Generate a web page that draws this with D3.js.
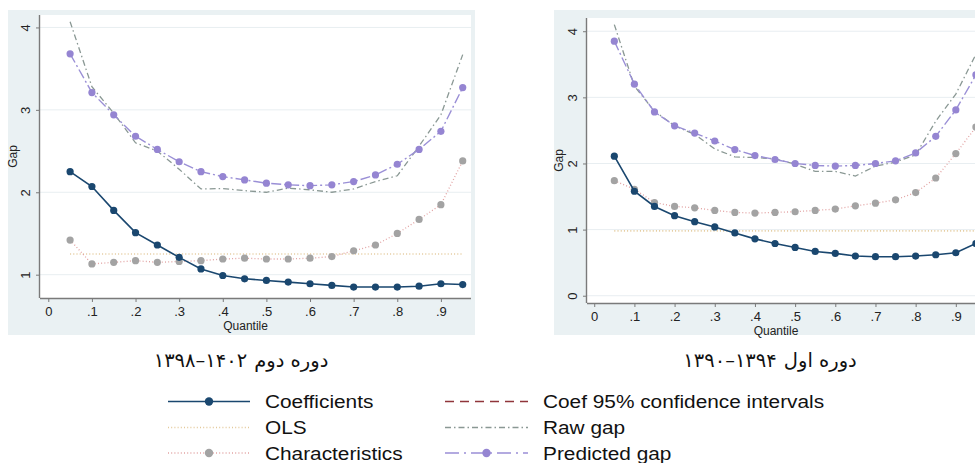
<!DOCTYPE html>
<html>
<head>
<meta charset="utf-8">
<script src="https://cdn.jsdelivr.net/npm/d3@7"></script>
<style>
  body { margin: 0; background: #fff; }
  svg { display: block; }
</style>
</head>
<body>
<div class="chart"></div>
<script>
// quantiles on the x axis
const quantiles = [0.05, 0.1, 0.15, 0.2, 0.25, 0.3, 0.35, 0.4, 0.45, 0.5,
                   0.55, 0.6, 0.65, 0.7, 0.75, 0.8, 0.85, 0.9, 0.95];

// second period 1398-1402 (left panel)
const coefP2  = [2.25, 2.07, 1.78, 1.51, 1.36, 1.21, 1.07, 0.99, 0.95, 0.93,
                 0.91, 0.89, 0.87, 0.85, 0.85, 0.85, 0.86, 0.89, 0.88];
const charsP2 = [1.42, 1.13, 1.15, 1.17, 1.15, 1.16, 1.17, 1.19, 1.20, 1.19,
                 1.19, 1.20, 1.22, 1.29, 1.36, 1.50, 1.67, 1.85, 2.38];
const rawP2   = [4.07, 3.28, 2.96, 2.60, 2.50, 2.28, 2.04, 2.045, 2.02, 2.00,
                 2.05, 2.03, 2.00, 2.04, 2.13, 2.20, 2.56, 2.94, 3.67];
const predP2  = [3.68, 3.21, 2.94, 2.68, 2.52, 2.37, 2.25, 2.19, 2.15, 2.11,
                 2.09, 2.08, 2.09, 2.13, 2.21, 2.34, 2.52, 2.74, 3.27];
const olsP2 = 1.25;

// first period 1390-1394 (right panel)
const coefP1  = [2.11, 1.58, 1.35, 1.21, 1.12, 1.04, 0.95, 0.86, 0.79, 0.73,
                 0.67, 0.64, 0.60, 0.59, 0.59, 0.60, 0.62, 0.65, 0.79];
const charsP1 = [1.74, 1.61, 1.41, 1.35, 1.33, 1.29, 1.26, 1.25, 1.26, 1.27,
                 1.29, 1.31, 1.36, 1.40, 1.45, 1.56, 1.78, 2.15, 2.55];
const rawP1   = [4.10, 3.17, 2.79, 2.57, 2.44, 2.22, 2.10, 2.09, 2.07, 1.99,
                 1.88, 1.88, 1.81, 1.96, 2.02, 2.13, 2.64, 3.05, 3.65];
const predP1  = [3.85, 3.20, 2.78, 2.57, 2.46, 2.34, 2.21, 2.12, 2.06, 2.00,
                 1.97, 1.96, 1.97, 2.00, 2.04, 2.16, 2.41, 2.81, 3.34];
const olsP1 = 0.98;

// axes
const xTicks = [0, 0.1, 0.2, 0.3, 0.4, 0.5, 0.6, 0.7, 0.8, 0.9];
const xTickLabels = ["0", ".1", ".2", ".3", ".4", ".5", ".6", ".7", ".8", ".9"];
const yTicksP2 = [1, 2, 3, 4];
const yTicksP1 = [0, 1, 2, 3, 4];

// panel captions (words + year range kept apart so the digits read left to right)
const captionWords = ["دوره دوم", "دوره اول"];
const captionYears = ["۱۳۹۸–۱۴۰۲", "۱۳۹۰–۱۳۹۴"];

const legendNames = ["Coefficients", "OLS", "Characteristics",
                     "Coef 95% confidence intervals", "Raw gap", "Predicted gap"];

const width = 975;
const height = 463;

const colors = {
  coef: "#1a476f",
  ols: "#e3c99a",
  charsLine: "#e2a3a3",
  charsDot: "#a3a3a3",
  ci: "#90353b",
  raw: "#8a9894",
  predLine: "#9a8fd6",
  predDot: "#9585d2",
  bg: "#eaf1f3",
  grid: "#e8eef1",
  axis: "#7a7a7a"
};

const svg = d3.select(".chart")
  .append("svg")
  .attr("width", width)
  .attr("height", height)
  .style("font-family", "'Liberation Sans', Arial, sans-serif");

const panels = [
  { bg: [8, 10, 467, 325], plot: [40, 15, 471, 298],
    xDomain: [-0.019, 0.969], yDomain: [0.717, 4.151], yTicks: yTicksP2,
    coef: coefP2, chars: charsP2, raw: rawP2, pred: predP2, ols: olsP2,
    words: captionWords[0], years: captionYears[0], captionX: 241, gapX: 17 },
  { bg: [554, 10, 440, 325], plot: [587, 18, 996, 303],
    xDomain: [-0.018, 1.0], yDomain: [-0.11, 4.2], yTicks: yTicksP1,
    coef: coefP1, chars: charsP1, raw: rawP1, pred: predP1, ols: olsP1,
    words: captionWords[1], years: captionYears[1], captionX: 770, gapX: 563 }
];

panels.forEach((p, i) => {
  const [px0, py0, px1, py1] = p.plot;
  const x = d3.scaleLinear().domain(p.xDomain).range([px0, px1]);
  const y = d3.scaleLinear().domain(p.yDomain).range([py1, py0]);

  const g = svg.append("g");

  g.append("rect")
    .attr("x", p.bg[0]).attr("y", p.bg[1])
    .attr("width", p.bg[2]).attr("height", p.bg[3])
    .attr("fill", colors.bg);

  g.append("rect")
    .attr("x", px0).attr("y", py0)
    .attr("width", px1 - px0).attr("height", py1 - py0)
    .attr("fill", "#fff");

  // grid
  g.append("g")
    .selectAll("line")
    .data(p.yTicks)
    .join("line")
      .attr("x1", px0).attr("x2", px1)
      .attr("y1", d => y(d)).attr("y2", d => y(d))
      .attr("stroke", colors.grid)
      .attr("stroke-width", 1);

  const clipId = "clip" + i;
  g.append("clipPath").attr("id", clipId)
    .append("rect")
    .attr("x", px0).attr("y", py0)
    .attr("width", px1 - px0).attr("height", py1 - py0);

  const plot = g.append("g").attr("clip-path", `url(#${clipId})`);

  const line = d3.line()
    .x((d, k) => x(quantiles[k]))
    .y(d => y(d));

  // OLS
  plot.append("line")
    .attr("x1", x(quantiles[0])).attr("x2", x(quantiles[quantiles.length - 1]))
    .attr("y1", y(p.ols)).attr("y2", y(p.ols))
    .attr("stroke", colors.ols)
    .attr("stroke-width", 1.6)
    .attr("stroke-dasharray", "1,2.2");

  // raw gap
  plot.append("path")
    .attr("d", line(p.raw))
    .attr("fill", "none")
    .attr("stroke", colors.raw)
    .attr("stroke-width", 1.3)
    .attr("stroke-dasharray", "6,3,1.5,3");

  // characteristics
  plot.append("path")
    .attr("d", line(p.chars))
    .attr("fill", "none")
    .attr("stroke", colors.charsLine)
    .attr("stroke-width", 1.3)
    .attr("stroke-dasharray", "1,2.2");
  plot.append("g")
    .selectAll("circle")
    .data(p.chars)
    .join("circle")
      .attr("cx", (d, k) => x(quantiles[k]))
      .attr("cy", d => y(d))
      .attr("r", 3.6)
      .attr("fill", colors.charsDot);

  // predicted gap
  plot.append("path")
    .attr("d", line(p.pred))
    .attr("fill", "none")
    .attr("stroke", colors.predLine)
    .attr("stroke-width", 1.4)
    .attr("stroke-dasharray", "10,3,2,3");
  plot.append("g")
    .selectAll("circle")
    .data(p.pred)
    .join("circle")
      .attr("cx", (d, k) => x(quantiles[k]))
      .attr("cy", d => y(d))
      .attr("r", 3.6)
      .attr("fill", colors.predDot);

  // coefficients
  plot.append("path")
    .attr("d", line(p.coef))
    .attr("fill", "none")
    .attr("stroke", colors.coef)
    .attr("stroke-width", 1.6);
  plot.append("g")
    .selectAll("circle")
    .data(p.coef)
    .join("circle")
      .attr("cx", (d, k) => x(quantiles[k]))
      .attr("cy", d => y(d))
      .attr("r", 3.6)
      .attr("fill", colors.coef);

  // axes
  const xAxis = g.append("g")
    .attr("transform", `translate(0,${py1})`)
    .call(d3.axisBottom(x)
      .tickValues(xTicks)
      .tickFormat((d, k) => xTickLabels[k])
      .tickSize(4)
      .tickSizeOuter(0));
  xAxis.select(".domain").attr("stroke", colors.axis).attr("stroke-width", 1.4)
    .attr("d", `M${px0},0.5H${px1}`);
  xAxis.selectAll(".tick line").attr("stroke", colors.axis);
  xAxis.selectAll(".tick text")
    .attr("y", 8.5)
    .attr("fill", "#222")
    .style("font-size", "13px")
    .style("font-family", "'Liberation Sans', Arial, sans-serif");

  const yAxis = g.append("g")
    .attr("transform", `translate(${px0},0)`)
    .call(d3.axisLeft(y)
      .tickValues(p.yTicks)
      .tickFormat(d3.format("d"))
      .tickSize(4)
      .tickSizeOuter(0));
  yAxis.select(".domain").attr("stroke", colors.axis).attr("stroke-width", 1.4)
    .attr("d", `M-0.5,${py1}V${py0}`);
  yAxis.selectAll(".tick line").attr("stroke", colors.axis);
  yAxis.selectAll(".tick text")
    .attr("transform", "rotate(-90)")
    .attr("x", 0)
    .attr("y", -10)
    .attr("dy", null)
    .attr("text-anchor", "middle")
    .attr("fill", "#222")
    .style("font-size", "13px")
    .style("font-family", "'Liberation Sans', Arial, sans-serif");

  g.append("text")
    .attr("x", (x(0) + x(0.9)) / 2 + 1)
    .attr("y", py1 + 32)
    .attr("text-anchor", "middle")
    .attr("fill", "#222")
    .style("font-size", "12px")
    .text("Quantile");

  g.append("text")
    .attr("transform", `translate(${p.gapX},${(py0 + py1) / 2}) rotate(-90)`)
    .attr("text-anchor", "middle")
    .attr("fill", "#222")
    .style("font-size", "12px")
    .text("Gap");

  // caption under the panel
  const cap = svg.append("g").style("font-family", "'DejaVu Sans', sans-serif")
    .style("font-size", "19.5px").attr("fill", "#111");
  const yrs = cap.append("text")
    .attr("y", 367)
    .attr("direction", "ltr")
    .text(p.years);
  const wrd = cap.append("text")
    .attr("y", 367)
    .attr("direction", "rtl")
    .attr("text-anchor", "start")
    .text(p.words);
  const wy = yrs.node().getComputedTextLength();
  const ww = wrd.node().getComputedTextLength();
  const gap = 7;
  const left = p.captionX - (wy + gap + ww) / 2;
  yrs.attr("x", left);
  wrd.attr("x", left + wy + gap + ww);
});

// legend
const legendRows = [401.5, 427.5, 453];
const legendCols = [
  { x0: 168, x1: 250, tx: 265 },
  { x0: 445, x1: 528, tx: 543 }
];
const legendStyle = [
  { stroke: colors.coef, dash: null, w: 1.6, dot: colors.coef },
  { stroke: colors.ols, dash: "1,2.2", w: 1.6, dot: null },
  { stroke: colors.charsLine, dash: "1,2.2", w: 1.3, dot: colors.charsDot },
  { stroke: colors.ci, dash: "9,6", w: 1.5, dot: null },
  { stroke: colors.raw, dash: "6,3,1.5,3", w: 1.4, dot: null },
  { stroke: colors.predLine, dash: "14,5,2,5", w: 1.4, dot: colors.predDot }
];

const legend = svg.append("g");
legendNames.forEach((name, k) => {
  const col = legendCols[Math.floor(k / 3)];
  const ly = legendRows[k % 3];
  const st = legendStyle[k];
  const item = legend.append("g");
  item.append("line")
    .attr("x1", col.x0).attr("x2", col.x1)
    .attr("y1", ly).attr("y2", ly)
    .attr("stroke", st.stroke)
    .attr("stroke-width", st.w)
    .attr("stroke-dasharray", st.dash);
  if (st.dot) {
    item.append("circle")
      .attr("cx", (col.x0 + col.x1) / 2)
      .attr("cy", ly)
      .attr("r", 4.2)
      .attr("fill", st.dot);
  }
  item.append("text")
    .attr("transform", `translate(${col.tx},${ly + 6.5}) scale(1.19,1)`)
    .attr("fill", "#111")
    .style("font-size", "17.5px")
    .text(name);
});
</script>
</body>
</html>
